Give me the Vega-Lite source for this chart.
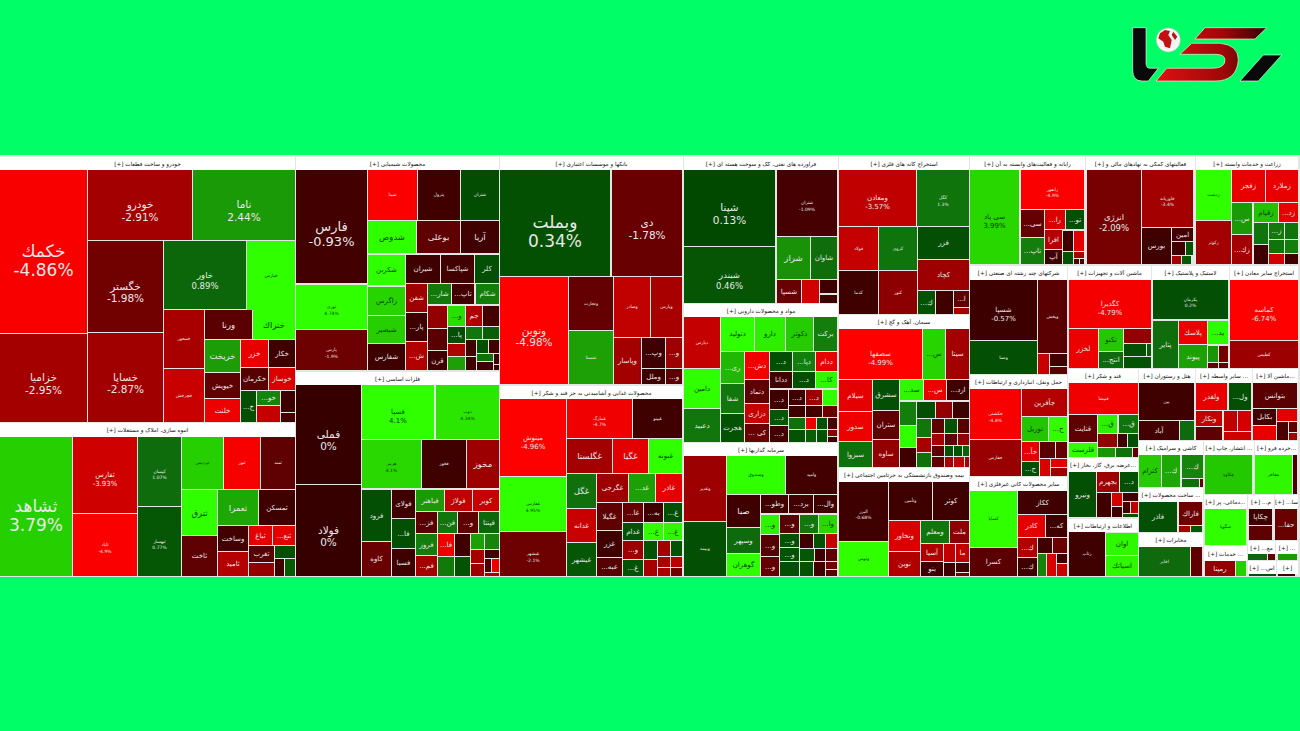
{"$schema":"https://vega.github.io/schema/vega-lite/v6.json","width":1300,"height":731,"padding":0,"autosize":{"type":"none"},"background":"#00ff66","config":{"view":{"stroke":null},"style":{"cell":{"stroke":null}}},
"datasets":{
"frame":[{"x":0,"x2":1300,"y":155,"y2":577}],
"logo":[{"x":1207,"y":53}],
"groups":[
{"x":0,"x2":295,"y":157,"y2":170,"n":"[+] خودرو و ساخت قطعات"},
{"x":0,"x2":295,"y":423,"y2":437,"n":"[+] انبوه سازی، املاک و مستغلات"},
{"x":296,"x2":499,"y":157,"y2":170,"n":"[+] محصولات شیمیایی"},
{"x":296,"x2":499,"y":372,"y2":385,"n":"[+] فلزات اساسی"},
{"x":500,"x2":683,"y":157,"y2":170,"n":"[+] بانکها و موسسات اعتباری"},
{"x":500,"x2":683,"y":386,"y2":399,"n":"[+] محصولات غذایی و آشامیدنی به جز قند و شکر"},
{"x":684,"x2":838,"y":157,"y2":170,"n":"[+] فراورده های نفتی، کک و سوخت هسته ای"},
{"x":684,"x2":838,"y":304,"y2":317,"n":"[+] مواد و محصولات دارویی"},
{"x":684,"x2":838,"y":443,"y2":456,"n":"[+] سرمایه گذاریها"},
{"x":839,"x2":969,"y":157,"y2":170,"n":"[+] استخراج کانه های فلزی"},
{"x":839,"x2":969,"y":315,"y2":329,"n":"[+] سیمان، آهک و گچ"},
{"x":839,"x2":969,"y":468,"y2":482,"n":"[+] بیمه وصندوق بازنشستگی به جزتامین اجتماعی"},
{"x":970,"x2":1085,"y":157,"y2":170,"n":"[+] رایانه و فعالیت‌های وابسته به آن"},
{"x":1086,"x2":1195,"y":157,"y2":170,"n":"[+] فعالیتهای کمکی به نهادهای مالی و"},
{"x":1196,"x2":1298,"y":157,"y2":170,"n":"[+] زراعت و خدمات وابسته"},
{"x":970,"x2":1067,"y":266,"y2":280,"n":"[+] شرکتهای چند رشته ای صنعتی"},
{"x":1068,"x2":1151,"y":266,"y2":280,"n":"[+] ماشین آلات و تجهیزات"},
{"x":1152,"x2":1229,"y":266,"y2":280,"n":"[+] لاستیک و پلاستیک"},
{"x":1230,"x2":1298,"y":266,"y2":280,"n":"[+] استخراج سایر معادن"},
{"x":970,"x2":1067,"y":375,"y2":389,"n":"[+] حمل ونقل، انبارداری و ارتباطات"},
{"x":1068,"x2":1138,"y":369,"y2":383,"n":"[+] قند و شکر"},
{"x":1139,"x2":1195,"y":369,"y2":383,"n":"[+] هتل و رستوران"},
{"x":1196,"x2":1252,"y":369,"y2":383,"n":"[+] سایر واسطه ..."},
{"x":1253,"x2":1298,"y":369,"y2":383,"n":"[+] ماشین آلا..."},
{"x":1068,"x2":1138,"y":458,"y2":472,"n":"[+] عرضه برق، گاز، بخار..."},
{"x":1068,"x2":1138,"y":519,"y2":532,"n":"[+] اطلاعات و ارتباطات"},
{"x":970,"x2":1067,"y":477,"y2":491,"n":"[+] سایر محصولات کانی غیرفلزی"},
{"x":1139,"x2":1203,"y":441,"y2":455,"n":"[+] کاشی و سرامیک"},
{"x":1204,"x2":1254,"y":441,"y2":455,"n":"[+] انتشار، چاپ ..."},
{"x":1255,"x2":1298,"y":441,"y2":455,"n":"[+] خرده فرو..."},
{"x":1139,"x2":1203,"y":488,"y2":502,"n":"[+] ساخت محصولات ..."},
{"x":1139,"x2":1203,"y":533,"y2":547,"n":"[+] مخابرات"},
{"x":1204,"x2":1247,"y":495,"y2":509,"n":"[+] دماغی، پر..."},
{"x":1204,"x2":1247,"y":546,"y2":561,"n":"[+] خدمات ..."},
{"x":1248,"x2":1274,"y":495,"y2":509,"n":"[+] ...م"},
{"x":1275,"x2":1298,"y":495,"y2":509,"n":"[+] ...سا"},
{"x":1248,"x2":1275,"y":541,"y2":554,"n":"[+] ...مع"},
{"x":1276,"x2":1298,"y":541,"y2":554,"n":"[+] ..."},
{"x":1248,"x2":1276,"y":561,"y2":574,"n":"[+] ...اس"},
{"x":1277,"x2":1298,"y":561,"y2":574,"n":"[+]"}
],
"cells":[
{"x":0,"x2":87,"y":170,"y2":333,"n":"خکمك|-4.86%","c":-4.86,"t":1},
{"x":0,"x2":87,"y":334,"y2":422,"n":"خزامیا|-2.95%","c":-2.95,"t":3},
{"x":88,"x2":192,"y":170,"y2":240,"n":"خودرو|-2.91%","c":-2.91,"t":3},
{"x":193,"x2":295,"y":170,"y2":240,"n":"ناما|2.44%","c":2.44,"t":3},
{"x":88,"x2":163,"y":241,"y2":332,"n":"خگستر|-1.98%","c":-1.98,"t":3},
{"x":88,"x2":163,"y":333,"y2":422,"n":"خساپا|-2.87%","c":-2.87,"t":3},
{"x":164,"x2":246,"y":241,"y2":309,"n":"خاور|0.89%","c":0.89,"t":4},
{"x":247,"x2":295,"y":241,"y2":310,"n":"خپارس","c":5,"t":6},
{"x":164,"x2":204,"y":310,"y2":368,"n":"خمحور","c":-3,"t":6},
{"x":164,"x2":204,"y":369,"y2":422,"n":"خچرخش","c":-3.8,"t":6},
{"x":205,"x2":252,"y":310,"y2":339,"n":"ورنا","c":-1.5,"t":4},
{"x":253,"x2":295,"y":310,"y2":339,"n":"ختراك","c":5,"t":4},
{"x":205,"x2":240,"y":340,"y2":372,"n":"خریخت","c":2.5,"t":4},
{"x":241,"x2":268,"y":340,"y2":367,"n":"خزر","c":-4.5,"t":5},
{"x":269,"x2":295,"y":340,"y2":367,"n":"خکار","c":-0.7,"t":5},
{"x":205,"x2":240,"y":373,"y2":398,"n":"خیویش","c":-1.6,"t":5},
{"x":241,"x2":268,"y":368,"y2":390,"n":"خکرمان","c":-1.4,"t":5},
{"x":269,"x2":295,"y":368,"y2":390,"n":"خوساز","c":-4.2,"t":5},
{"x":205,"x2":240,"y":399,"y2":422,"n":"خلنت","c":-4.6,"t":5},
{"x":241,"x2":256,"y":391,"y2":422,"n":"...خ","c":0.3,"t":5},
{"x":257,"x2":280,"y":391,"y2":405,"n":"...خو","c":1.8,"t":5},
{"x":281,"x2":295,"y":391,"y2":412,"c":-0.6},
{"x":257,"x2":280,"y":406,"y2":422,"c":-3.7},
{"x":281,"x2":295,"y":413,"y2":422,"c":-0.9},
{"x":0,"x2":72,"y":437,"y2":576,"n":"ثشاهد|3.79%","c":3.79,"t":1},
{"x":73,"x2":137,"y":437,"y2":513,"n":"ثفارس|-3.93%","c":-3.93,"t":5},
{"x":73,"x2":137,"y":514,"y2":576,"n":"ثاباد|-4.9%","c":-4.9,"t":6},
{"x":138,"x2":181,"y":437,"y2":506,"n":"کیسان|1.07%","c":1.07,"t":6},
{"x":138,"x2":181,"y":507,"y2":576,"n":"ثبهساز|0.77%","c":0.5,"t":6},
{"x":182,"x2":223,"y":437,"y2":489,"n":"ثپردیس","c":3.8,"t":6},
{"x":224,"x2":260,"y":437,"y2":489,"n":"ثنور","c":-4.8,"t":6},
{"x":261,"x2":295,"y":437,"y2":489,"n":"ثمند","c":-1.6,"t":6},
{"x":182,"x2":217,"y":490,"y2":535,"n":"ثترق","c":5,"t":4},
{"x":218,"x2":258,"y":490,"y2":525,"n":"ثعمرا","c":2.8,"t":4},
{"x":259,"x2":295,"y":490,"y2":525,"n":"ثمسکن","c":-0.7,"t":5},
{"x":182,"x2":217,"y":536,"y2":576,"n":"ثاخت","c":-1.6,"t":5},
{"x":218,"x2":248,"y":526,"y2":551,"n":"وساخت","c":-0.9,"t":5},
{"x":249,"x2":272,"y":526,"y2":545,"n":"ثباغ","c":-4.4,"t":5},
{"x":273,"x2":295,"y":526,"y2":545,"n":"...ثنع","c":-4.4,"t":5},
{"x":218,"x2":248,"y":552,"y2":576,"n":"ثامید","c":-3.3,"t":5},
{"x":249,"x2":274,"y":546,"y2":562,"n":"ثغرب","c":-1.4,"t":5},
{"x":249,"x2":274,"y":563,"y2":576,"c":-2.6},
{"x":275,"x2":295,"y":546,"y2":558,"c":0.3},
{"x":275,"x2":284,"y":559,"y2":576,"c":-0.7},
{"x":285,"x2":295,"y":559,"y2":576,"c":0.6},
{"x":296,"x2":367,"y":170,"y2":283,"n":"فارس|-0.93%","c":-0.93,"t":2},
{"x":296,"x2":367,"y":285,"y2":329,"n":"نوری|4.74%","c":5,"t":6},
{"x":296,"x2":367,"y":330,"y2":370,"n":"پارس|-1.9%","c":-1.9,"t":6},
{"x":368,"x2":417,"y":170,"y2":220,"n":"شپنا","c":-4.9,"t":6},
{"x":418,"x2":460,"y":170,"y2":220,"n":"پترول","c":-0.8,"t":6},
{"x":461,"x2":499,"y":170,"y2":220,"n":"شتران","c":0.25,"t":6},
{"x":368,"x2":416,"y":221,"y2":253,"n":"شدوص","c":5,"t":4},
{"x":417,"x2":460,"y":221,"y2":253,"n":"بوعلی","c":-1.6,"t":4},
{"x":461,"x2":499,"y":221,"y2":253,"n":"آریا","c":-0.8,"t":4},
{"x":368,"x2":405,"y":255,"y2":285,"n":"شکربن","c":5,"t":5},
{"x":368,"x2":405,"y":287,"y2":315,"n":"زاگرس","c":3.9,"t":5},
{"x":368,"x2":405,"y":316,"y2":343,"n":"شیصیر","c":3.8,"t":5},
{"x":368,"x2":405,"y":344,"y2":370,"n":"شفارس","c":-0.7,"t":5},
{"x":406,"x2":440,"y":255,"y2":283,"n":"شیران","c":-0.7,"t":5},
{"x":441,"x2":474,"y":255,"y2":283,"n":"شپاکسا","c":-0.9,"t":5},
{"x":475,"x2":499,"y":255,"y2":283,"n":"کلر","c":0.3,"t":5},
{"x":406,"x2":427,"y":284,"y2":312,"n":"شفن","c":-2.8,"t":5},
{"x":428,"x2":451,"y":284,"y2":304,"n":"...شار","c":1.5,"t":5},
{"x":452,"x2":474,"y":284,"y2":304,"n":"...تاپ","c":-0.9,"t":5},
{"x":476,"x2":499,"y":284,"y2":304,"n":"شکام","c":1.6,"t":5},
{"x":406,"x2":427,"y":313,"y2":341,"n":"...پار","c":-0.7,"t":5},
{"x":406,"x2":427,"y":342,"y2":370,"n":"...ش","c":-3.2,"t":5},
{"x":428,"x2":447,"y":306,"y2":328,"c":-2.6},
{"x":428,"x2":447,"y":329,"y2":350,"c":-1.5},
{"x":428,"x2":447,"y":351,"y2":370,"n":"قرن","c":-0.8,"t":5},
{"x":448,"x2":465,"y":306,"y2":326,"n":"...و","c":4.2,"t":5},
{"x":448,"x2":465,"y":327,"y2":343,"n":"...پا","c":0.3,"t":5},
{"x":448,"x2":465,"y":344,"y2":356,"c":-3.2},
{"x":448,"x2":465,"y":357,"y2":370,"c":2.6},
{"x":466,"x2":482,"y":306,"y2":326,"n":"جم","c":-3.2,"t":5},
{"x":483,"x2":499,"y":306,"y2":326,"c":-1},
{"x":466,"x2":482,"y":327,"y2":339,"c":1.4},
{"x":483,"x2":499,"y":327,"y2":339,"c":0.7},
{"x":466,"x2":476,"y":340,"y2":356,"c":-0.9},
{"x":477,"x2":488,"y":340,"y2":353,"c":0.3},
{"x":489,"x2":499,"y":340,"y2":353,"c":-0.9},
{"x":477,"x2":493,"y":354,"y2":361,"c":1.2},
{"x":494,"x2":499,"y":354,"y2":364,"c":-0.8},
{"x":466,"x2":476,"y":357,"y2":370,"c":-0.8},
{"x":477,"x2":493,"y":362,"y2":370,"c":-0.8},
{"x":494,"x2":499,"y":365,"y2":370,"c":-0.8},
{"x":296,"x2":361,"y":385,"y2":484,"n":"فملی|0%","c":0,"t":3},
{"x":296,"x2":361,"y":485,"y2":576,"n":"فولاد|0%","c":0,"t":3},
{"x":362,"x2":434,"y":385,"y2":439,"n":"فسپا|4.1%","c":5,"t":5},
{"x":436,"x2":499,"y":385,"y2":439,"n":"ذوب|4.34%","c":4.4,"t":6},
{"x":362,"x2":421,"y":440,"y2":488,"n":"هرمز|4.1%","c":4,"t":6},
{"x":422,"x2":466,"y":440,"y2":488,"n":"فخوز","c":-0.7,"t":6},
{"x":467,"x2":499,"y":440,"y2":488,"n":"مخوز","c":-2.8,"t":4},
{"x":362,"x2":391,"y":490,"y2":541,"n":"فرود","c":0.3,"t":5},
{"x":362,"x2":391,"y":542,"y2":576,"n":"کاوه","c":-1.8,"t":5},
{"x":392,"x2":415,"y":490,"y2":518,"n":"فولای","c":-0.8,"t":5},
{"x":392,"x2":415,"y":519,"y2":548,"n":"...فا","c":0.3,"t":5},
{"x":392,"x2":415,"y":549,"y2":576,"n":"فسبا","c":-0.7,"t":5},
{"x":416,"x2":444,"y":490,"y2":511,"n":"فباهنر","c":2.4,"t":5},
{"x":445,"x2":472,"y":490,"y2":511,"n":"فولاژ","c":-3.6,"t":5},
{"x":473,"x2":499,"y":490,"y2":511,"n":"کویر","c":-3.8,"t":5},
{"x":416,"x2":437,"y":512,"y2":533,"n":"...فز","c":-1.5,"t":5},
{"x":438,"x2":457,"y":512,"y2":533,"n":"...فن","c":1.4,"t":5},
{"x":458,"x2":478,"y":512,"y2":533,"n":"...و","c":-1.6,"t":5},
{"x":479,"x2":499,"y":512,"y2":533,"n":"فپنتا","c":0.9,"t":5},
{"x":416,"x2":437,"y":534,"y2":555,"n":"فروز","c":1.6,"t":5},
{"x":416,"x2":437,"y":556,"y2":576,"n":"...فم","c":-2.9,"t":5},
{"x":438,"x2":454,"y":534,"y2":556,"n":"...فا","c":-4.6,"t":5},
{"x":438,"x2":454,"y":557,"y2":576,"c":1.5},
{"x":455,"x2":470,"y":534,"y2":556,"c":-0.7},
{"x":455,"x2":470,"y":557,"y2":576,"c":0.4},
{"x":471,"x2":484,"y":534,"y2":549,"c":2.6},
{"x":485,"x2":499,"y":534,"y2":549,"c":1.8},
{"x":471,"x2":484,"y":550,"y2":563,"c":-3},
{"x":471,"x2":484,"y":564,"y2":576,"c":-2.8},
{"x":485,"x2":499,"y":550,"y2":558,"c":-0.8},
{"x":485,"x2":491,"y":559,"y2":572,"c":-1.2},
{"x":492,"x2":499,"y":559,"y2":572,"c":-4.6},
{"x":485,"x2":499,"y":573,"y2":576,"c":-3},
{"x":500,"x2":610,"y":170,"y2":276,"n":"وبملت|0.34%","c":0.34,"t":1},
{"x":612,"x2":682,"y":170,"y2":276,"n":"دی|-1.78%","c":-1.78,"t":3},
{"x":500,"x2":568,"y":277,"y2":384,"n":"ونوین|-4.98%","c":-4.98,"t":3},
{"x":569,"x2":613,"y":277,"y2":330,"n":"وتجارت","c":-1.7,"t":6},
{"x":569,"x2":613,"y":331,"y2":384,"n":"شستا","c":2.6,"t":6},
{"x":614,"x2":650,"y":277,"y2":337,"n":"وصادر","c":-3.6,"t":6},
{"x":651,"x2":682,"y":277,"y2":337,"n":"وپارس","c":-3,"t":6},
{"x":614,"x2":641,"y":338,"y2":384,"n":"وپاسار","c":-2.9,"t":5},
{"x":642,"x2":665,"y":338,"y2":368,"n":"...وپ","c":-0.6,"t":5},
{"x":666,"x2":682,"y":338,"y2":368,"n":"...و","c":-2.8,"t":5},
{"x":642,"x2":665,"y":369,"y2":384,"n":"وملل","c":-0.8,"t":5},
{"x":666,"x2":682,"y":369,"y2":384,"n":"...و","c":-1.5,"t":5},
{"x":500,"x2":566,"y":399,"y2":476,"n":"مینوش|-4.96%","c":-4.96,"t":5},
{"x":500,"x2":566,"y":477,"y2":531,"n":"غفارس|4.95%","c":5,"t":6},
{"x":500,"x2":566,"y":532,"y2":576,"n":"غبشهر|-2.1%","c":-1.9,"t":6},
{"x":567,"x2":632,"y":399,"y2":438,"n":"غمارگ|-4.7%","c":-4.7,"t":6},
{"x":633,"x2":682,"y":399,"y2":438,"n":"غپینو","c":-0.7,"t":6},
{"x":567,"x2":612,"y":439,"y2":473,"n":"غگلستا","c":-2.9,"t":4},
{"x":613,"x2":648,"y":439,"y2":473,"n":"غگیا","c":-4.4,"t":4},
{"x":649,"x2":682,"y":439,"y2":473,"n":"غبونه","c":5,"t":5},
{"x":567,"x2":596,"y":474,"y2":508,"n":"غگل","c":1.2,"t":4},
{"x":597,"x2":628,"y":474,"y2":502,"n":"غگرجی","c":-2.8,"t":5},
{"x":629,"x2":655,"y":474,"y2":502,"n":"...غد","c":2.6,"t":5},
{"x":656,"x2":682,"y":474,"y2":502,"n":"غاذر","c":-4.4,"t":5},
{"x":567,"x2":596,"y":509,"y2":542,"n":"غدانه","c":-3.8,"t":5},
{"x":567,"x2":596,"y":543,"y2":576,"n":"غیشهر","c":0.5,"t":5},
{"x":597,"x2":622,"y":503,"y2":530,"n":"غگیلا","c":-1.6,"t":5},
{"x":597,"x2":622,"y":531,"y2":557,"n":"غزر","c":-0.7,"t":5},
{"x":597,"x2":622,"y":558,"y2":576,"n":"...عبه","c":-1.4,"t":5},
{"x":623,"x2":643,"y":503,"y2":522,"n":"...غا","c":-1.7,"t":5},
{"x":644,"x2":663,"y":503,"y2":522,"n":"...به","c":-0.8,"t":5},
{"x":664,"x2":682,"y":503,"y2":522,"n":"...غ","c":0.3,"t":5},
{"x":623,"x2":643,"y":523,"y2":540,"n":"غدام","c":0.4,"t":5},
{"x":644,"x2":663,"y":523,"y2":540,"n":"...غ","c":5,"t":5},
{"x":664,"x2":682,"y":523,"y2":540,"n":"...غ","c":4.8,"t":5},
{"x":623,"x2":643,"y":541,"y2":559,"n":"...و","c":-2.8,"t":5},
{"x":623,"x2":643,"y":560,"y2":576,"n":"...غ","c":0.4,"t":5},
{"x":644,"x2":657,"y":541,"y2":559,"c":0.4},
{"x":644,"x2":657,"y":560,"y2":576,"c":-3},
{"x":658,"x2":670,"y":541,"y2":556,"c":-2.9},
{"x":671,"x2":682,"y":541,"y2":556,"c":0.4},
{"x":658,"x2":670,"y":557,"y2":567,"c":-3},
{"x":671,"x2":682,"y":557,"y2":567,"c":-3.4},
{"x":658,"x2":670,"y":568,"y2":576,"c":-3},
{"x":671,"x2":682,"y":568,"y2":576,"c":-2},
{"x":684,"x2":775,"y":170,"y2":246,"n":"شپنا|0.13%","c":0.13,"t":3},
{"x":684,"x2":775,"y":247,"y2":303,"n":"شبندر|0.46%","c":0.46,"t":4},
{"x":777,"x2":837,"y":170,"y2":236,"n":"شتران|-1.09%","c":-1.09,"t":6},
{"x":777,"x2":810,"y":237,"y2":279,"n":"شراز","c":2.2,"t":4},
{"x":811,"x2":837,"y":237,"y2":279,"n":"شاوان","c":1.1,"t":5},
{"x":777,"x2":801,"y":280,"y2":303,"n":"شسپا","c":-1.8,"t":5},
{"x":802,"x2":819,"y":280,"y2":303,"c":-4},
{"x":820,"x2":837,"y":280,"y2":293,"c":-0.7},
{"x":820,"x2":837,"y":295,"y2":303,"c":-0.8},
{"x":684,"x2":720,"y":317,"y2":368,"n":"دپارس","c":-3.7,"t":6},
{"x":684,"x2":720,"y":369,"y2":408,"n":"دامین","c":5,"t":5},
{"x":684,"x2":720,"y":409,"y2":442,"n":"دعبید","c":1.4,"t":5},
{"x":721,"x2":754,"y":317,"y2":351,"n":"دتولید","c":5,"t":5},
{"x":755,"x2":785,"y":317,"y2":351,"n":"دارو","c":4.6,"t":5},
{"x":786,"x2":813,"y":317,"y2":351,"n":"دکوثر","c":3.7,"t":5},
{"x":814,"x2":837,"y":317,"y2":351,"n":"برکت","c":1.6,"t":5},
{"x":721,"x2":744,"y":352,"y2":383,"n":"...ری","c":3.2,"t":5},
{"x":721,"x2":744,"y":384,"y2":413,"n":"شفا","c":1.4,"t":5},
{"x":721,"x2":744,"y":414,"y2":442,"n":"هجرت","c":0.4,"t":5},
{"x":745,"x2":769,"y":352,"y2":379,"n":"...دش","c":-4.7,"t":5},
{"x":745,"x2":769,"y":380,"y2":403,"n":"دتماد","c":-1.6,"t":5},
{"x":745,"x2":769,"y":404,"y2":423,"n":"دزاری","c":-3.7,"t":5},
{"x":745,"x2":769,"y":424,"y2":442,"n":"... کی","c":-1.8,"t":5},
{"x":770,"x2":792,"y":352,"y2":371,"n":"...د","c":0.3,"t":5},
{"x":793,"x2":815,"y":352,"y2":371,"n":"...دپا","c":1.6,"t":5},
{"x":816,"x2":837,"y":352,"y2":371,"n":"ددام","c":-4.5,"t":5},
{"x":770,"x2":792,"y":372,"y2":388,"n":"ددانا","c":-0.9,"t":5},
{"x":793,"x2":815,"y":372,"y2":388,"n":"...د","c":0.3,"t":5},
{"x":816,"x2":837,"y":372,"y2":388,"n":"...کا","c":4.8,"t":5},
{"x":770,"x2":788,"y":390,"y2":409,"n":"...د","c":-0.8,"t":5},
{"x":789,"x2":805,"y":390,"y2":405,"n":"...د","c":-0.7,"t":5},
{"x":806,"x2":822,"y":390,"y2":405,"n":"...د","c":-2.8,"t":5},
{"x":823,"x2":837,"y":390,"y2":405,"c":5},
{"x":789,"x2":805,"y":406,"y2":417,"c":-0.7},
{"x":806,"x2":822,"y":406,"y2":417,"c":-0.8},
{"x":823,"x2":837,"y":406,"y2":417,"c":-1.9},
{"x":770,"x2":788,"y":410,"y2":425,"n":"...د","c":0.5,"t":5},
{"x":770,"x2":788,"y":426,"y2":442,"n":"...د","c":-0.9,"t":5},
{"x":789,"x2":805,"y":418,"y2":429,"c":1.2},
{"x":806,"x2":816,"y":418,"y2":429,"c":-4.6},
{"x":817,"x2":827,"y":418,"y2":429,"c":0.4},
{"x":828,"x2":837,"y":418,"y2":429,"c":-1.2},
{"x":789,"x2":805,"y":430,"y2":442,"c":0.4},
{"x":806,"x2":816,"y":430,"y2":442,"c":0.7},
{"x":817,"x2":827,"y":430,"y2":442,"c":0.4},
{"x":828,"x2":837,"y":430,"y2":436,"c":-2.5},
{"x":828,"x2":837,"y":437,"y2":442,"c":-0.8},
{"x":684,"x2":726,"y":456,"y2":521,"n":"وغدیر","c":-2.8,"t":6},
{"x":684,"x2":726,"y":522,"y2":576,"n":"وبیمه","c":0.3,"t":6},
{"x":727,"x2":785,"y":456,"y2":494,"n":"وصندوق","c":5,"t":6},
{"x":786,"x2":837,"y":456,"y2":494,"n":"وامید","c":-0.9,"t":6},
{"x":727,"x2":760,"y":495,"y2":527,"n":"صبا","c":-0.7,"t":4},
{"x":727,"x2":760,"y":528,"y2":553,"n":"وسپهر","c":1,"t":5},
{"x":727,"x2":760,"y":554,"y2":576,"n":"گوهران","c":5,"t":5},
{"x":761,"x2":788,"y":495,"y2":513,"n":"...وطو","c":-1,"t":5},
{"x":789,"x2":813,"y":495,"y2":513,"n":"...برد","c":-0.9,"t":5},
{"x":814,"x2":837,"y":495,"y2":513,"n":"...وال","c":-0.8,"t":5},
{"x":761,"x2":779,"y":515,"y2":534,"n":"...و","c":4.7,"t":5},
{"x":780,"x2":799,"y":515,"y2":533,"n":"...و","c":-1.5,"t":5},
{"x":800,"x2":818,"y":515,"y2":533,"n":"...و","c":1.4,"t":5},
{"x":819,"x2":837,"y":515,"y2":533,"n":"...وا","c":4,"t":5},
{"x":761,"x2":779,"y":535,"y2":556,"n":"...و","c":-1.4,"t":5},
{"x":761,"x2":779,"y":557,"y2":576,"n":"...و","c":-1.7,"t":5},
{"x":780,"x2":799,"y":534,"y2":547,"n":"...و","c":0.4,"t":5},
{"x":780,"x2":799,"y":548,"y2":561,"n":"...و","c":0.4,"t":5},
{"x":780,"x2":799,"y":562,"y2":576,"c":0.3},
{"x":800,"x2":813,"y":534,"y2":548,"c":-0.7},
{"x":814,"x2":825,"y":534,"y2":548,"c":0.4},
{"x":826,"x2":837,"y":534,"y2":548,"c":-3.8},
{"x":800,"x2":814,"y":549,"y2":561,"c":0.5},
{"x":815,"x2":825,"y":549,"y2":561,"c":-0.8},
{"x":826,"x2":837,"y":549,"y2":561,"c":-1.6},
{"x":800,"x2":813,"y":562,"y2":576,"c":0.4},
{"x":814,"x2":825,"y":562,"y2":576,"c":-0.9},
{"x":826,"x2":837,"y":562,"y2":569,"c":-2},
{"x":826,"x2":837,"y":570,"y2":576,"c":-1.4},
{"x":839,"x2":916,"y":170,"y2":226,"n":"ومعادن|-3.57%","c":-3.57,"t":5},
{"x":917,"x2":969,"y":170,"y2":226,"n":"کگل|1.3%","c":1.3,"t":6},
{"x":839,"x2":878,"y":227,"y2":270,"n":"فولاد","c":-3.7,"t":6},
{"x":879,"x2":917,"y":227,"y2":270,"n":"کروی","c":1.3,"t":6},
{"x":918,"x2":969,"y":227,"y2":259,"n":"فزر","c":0.3,"t":5},
{"x":918,"x2":969,"y":260,"y2":290,"n":"کچاد","c":-2.8,"t":5},
{"x":839,"x2":878,"y":271,"y2":314,"n":"کدما","c":-0.7,"t":6},
{"x":879,"x2":917,"y":271,"y2":314,"n":"کنور","c":-2.5,"t":6},
{"x":918,"x2":935,"y":291,"y2":314,"n":"...ك","c":0.4,"t":5},
{"x":936,"x2":953,"y":291,"y2":314,"c":-0.7},
{"x":954,"x2":969,"y":291,"y2":307,"n":"...ا","c":-1.6,"t":5},
{"x":954,"x2":969,"y":308,"y2":314,"c":-3},
{"x":839,"x2":922,"y":329,"y2":379,"n":"سصفها|-4.99%","c":-4.99,"t":5},
{"x":923,"x2":945,"y":329,"y2":379,"n":"...س","c":3.9,"t":5},
{"x":946,"x2":969,"y":329,"y2":379,"n":"سیتا","c":-2.9,"t":5},
{"x":839,"x2":872,"y":380,"y2":411,"n":"سیلام","c":-4.4,"t":5},
{"x":839,"x2":872,"y":412,"y2":441,"n":"سدور","c":-4.6,"t":5},
{"x":839,"x2":872,"y":442,"y2":467,"n":"سبزوا","c":1.2,"t":5},
{"x":873,"x2":899,"y":380,"y2":410,"n":"سشرق","c":0.3,"t":5},
{"x":873,"x2":899,"y":411,"y2":439,"n":"ستران","c":-1.6,"t":5},
{"x":873,"x2":899,"y":440,"y2":467,"n":"ساوه","c":-2.6,"t":5},
{"x":900,"x2":923,"y":380,"y2":400,"n":"...سد","c":4.8,"t":5},
{"x":924,"x2":946,"y":380,"y2":400,"n":"...س","c":-4.6,"t":5},
{"x":947,"x2":969,"y":380,"y2":400,"n":"...ارد","c":-0.7,"t":5},
{"x":900,"x2":916,"y":402,"y2":425,"c":1.6},
{"x":900,"x2":916,"y":426,"y2":447,"c":5},
{"x":900,"x2":916,"y":448,"y2":467,"c":-0.7},
{"x":917,"x2":935,"y":402,"y2":418,"c":0.3},
{"x":936,"x2":952,"y":402,"y2":418,"c":-2.6},
{"x":953,"x2":969,"y":402,"y2":418,"c":-0.7},
{"x":917,"x2":931,"y":419,"y2":437,"c":1.4},
{"x":917,"x2":931,"y":438,"y2":452,"c":-3},
{"x":917,"x2":931,"y":453,"y2":467,"c":1.2},
{"x":932,"x2":944,"y":419,"y2":433,"c":-1.6},
{"x":945,"x2":957,"y":419,"y2":433,"c":0.4},
{"x":958,"x2":969,"y":419,"y2":433,"c":-1.4},
{"x":932,"x2":944,"y":434,"y2":445,"c":-3},
{"x":945,"x2":957,"y":434,"y2":445,"c":-1.6},
{"x":958,"x2":969,"y":434,"y2":445,"c":-2.6},
{"x":932,"x2":944,"y":446,"y2":456,"c":-1.6},
{"x":945,"x2":953,"y":446,"y2":456,"c":0.4},
{"x":954,"x2":962,"y":446,"y2":456,"c":0.4},
{"x":963,"x2":969,"y":446,"y2":456,"c":0.8},
{"x":932,"x2":944,"y":457,"y2":467,"c":-1.6},
{"x":945,"x2":953,"y":457,"y2":467,"c":-3},
{"x":954,"x2":964,"y":457,"y2":467,"c":-3.6},
{"x":965,"x2":969,"y":457,"y2":467,"c":-3},
{"x":839,"x2":888,"y":482,"y2":541,"n":"البرز|-0.68%","c":-0.68,"t":6},
{"x":839,"x2":888,"y":542,"y2":576,"n":"وتوس","c":5,"t":6},
{"x":889,"x2":932,"y":482,"y2":520,"n":"وتأمین","c":-0.7,"t":6},
{"x":933,"x2":969,"y":482,"y2":520,"n":"کوثر","c":-0.7,"t":5},
{"x":889,"x2":920,"y":521,"y2":551,"n":"ونخاور","c":-4.2,"t":5},
{"x":889,"x2":920,"y":552,"y2":576,"n":"نوین","c":-3.2,"t":5},
{"x":921,"x2":949,"y":521,"y2":543,"n":"ومعلم","c":1.4,"t":5},
{"x":950,"x2":969,"y":521,"y2":543,"n":"ملت","c":-2.5,"t":5},
{"x":921,"x2":943,"y":544,"y2":561,"n":"آسیا","c":-3.2,"t":5},
{"x":921,"x2":943,"y":562,"y2":576,"n":"بنو","c":-0.7,"t":5},
{"x":944,"x2":955,"y":544,"y2":562,"c":-3.6},
{"x":956,"x2":969,"y":544,"y2":562,"n":"ما","c":-3.6,"t":5},
{"x":944,"x2":955,"y":563,"y2":576,"c":-0.8},
{"x":956,"x2":969,"y":563,"y2":572,"c":-0.8},
{"x":956,"x2":969,"y":573,"y2":576,"c":-2},
{"x":970,"x2":1019,"y":170,"y2":264,"n":"سی پاد|3.99%","c":3.99,"t":5},
{"x":1021,"x2":1084,"y":170,"y2":209,"n":"رانفور|-4.9%","c":-4.9,"t":6},
{"x":1021,"x2":1044,"y":210,"y2":237,"n":"...سی","c":-1.7,"t":5},
{"x":1045,"x2":1065,"y":210,"y2":229,"n":"...را","c":-4.2,"t":5},
{"x":1066,"x2":1084,"y":210,"y2":229,"n":"...تو","c":0.3,"t":5},
{"x":1021,"x2":1044,"y":238,"y2":264,"n":"...تاپ","c":1.6,"t":5},
{"x":1045,"x2":1062,"y":230,"y2":249,"n":"افرا","c":-3.3,"t":5},
{"x":1045,"x2":1062,"y":250,"y2":264,"n":"آپ","c":-0.7,"t":5},
{"x":1063,"x2":1073,"y":231,"y2":251,"c":-0.7},
{"x":1074,"x2":1084,"y":231,"y2":251,"c":-4.4},
{"x":1063,"x2":1073,"y":252,"y2":264,"c":0.4},
{"x":1074,"x2":1084,"y":252,"y2":258,"c":-3},
{"x":1074,"x2":1079,"y":259,"y2":264,"c":-1.5},
{"x":1080,"x2":1084,"y":259,"y2":264,"c":-0.9},
{"x":1087,"x2":1141,"y":170,"y2":264,"n":"انرژی|-2.09%","c":-2.09,"t":4},
{"x":1142,"x2":1193,"y":170,"y2":227,"n":"خاوریانه|-3.4%","c":-2.9,"t":6},
{"x":1142,"x2":1171,"y":228,"y2":264,"n":"بورس","c":-0.7,"t":5},
{"x":1172,"x2":1193,"y":228,"y2":241,"n":"امین","c":-1,"t":5},
{"x":1172,"x2":1185,"y":242,"y2":255,"c":-0.7},
{"x":1186,"x2":1193,"y":242,"y2":255,"c":0.4},
{"x":1172,"x2":1181,"y":256,"y2":264,"c":-3},
{"x":1182,"x2":1191,"y":256,"y2":264,"c":0.6},
{"x":1196,"x2":1231,"y":170,"y2":220,"n":"زدشت","c":5,"t":6},
{"x":1196,"x2":1231,"y":221,"y2":264,"n":"زکوثر","c":-2.9,"t":6},
{"x":1232,"x2":1265,"y":170,"y2":202,"n":"زفجر","c":-4.5,"t":5},
{"x":1266,"x2":1298,"y":170,"y2":202,"n":"زملارد","c":-4.5,"t":5},
{"x":1232,"x2":1252,"y":203,"y2":234,"n":"...س","c":2.4,"t":5},
{"x":1232,"x2":1252,"y":235,"y2":264,"n":"...زك","c":-2.9,"t":5},
{"x":1254,"x2":1278,"y":203,"y2":222,"n":"زقیام","c":3.4,"t":5},
{"x":1279,"x2":1298,"y":203,"y2":222,"n":"...زد","c":-4.5,"t":5},
{"x":1254,"x2":1268,"y":223,"y2":244,"c":1.3},
{"x":1269,"x2":1284,"y":223,"y2":239,"n":"...ز","c":1.5,"t":5},
{"x":1285,"x2":1298,"y":223,"y2":239,"c":1.3},
{"x":1254,"x2":1268,"y":245,"y2":264,"c":-0.6},
{"x":1269,"x2":1284,"y":240,"y2":253,"c":1.3},
{"x":1285,"x2":1298,"y":240,"y2":253,"c":1.6},
{"x":1269,"x2":1284,"y":254,"y2":264,"c":-4},
{"x":1285,"x2":1298,"y":254,"y2":264,"c":-0.8},
{"x":970,"x2":1037,"y":280,"y2":340,"n":"شسپا|-0.57%","c":-0.57,"t":5},
{"x":970,"x2":1037,"y":341,"y2":374,"n":"وصنا","c":0.3,"t":6},
{"x":1038,"x2":1067,"y":280,"y2":353,"n":"وپخش","c":-1.5,"t":6},
{"x":1038,"x2":1049,"y":354,"y2":374,"c":-3.8},
{"x":1050,"x2":1067,"y":354,"y2":366,"c":-0.8},
{"x":1050,"x2":1067,"y":367,"y2":374,"c":-1.6},
{"x":1069,"x2":1151,"y":280,"y2":328,"n":"کگدیرا|-4.79%","c":-4.79,"t":5},
{"x":1069,"x2":1098,"y":329,"y2":368,"n":"لخزر","c":-4.6,"t":5},
{"x":1099,"x2":1123,"y":329,"y2":351,"n":"تکنو","c":3.6,"t":5},
{"x":1099,"x2":1123,"y":352,"y2":368,"n":"...انتج","c":1,"t":5},
{"x":1124,"x2":1151,"y":329,"y2":343,"c":-2.6},
{"x":1124,"x2":1146,"y":344,"y2":356,"c":0.3},
{"x":1147,"x2":1151,"y":344,"y2":356,"c":0.6},
{"x":1124,"x2":1151,"y":357,"y2":368,"c":0.4},
{"x":1153,"x2":1228,"y":280,"y2":319,"n":"پکرمان|0.2%","c":0.3,"t":6},
{"x":1153,"x2":1178,"y":321,"y2":368,"n":"پتایر","c":1.1,"t":5},
{"x":1179,"x2":1207,"y":321,"y2":344,"n":"پلاسك","c":-4.6,"t":5},
{"x":1208,"x2":1228,"y":321,"y2":344,"n":"...ید","c":4.9,"t":5},
{"x":1179,"x2":1207,"y":345,"y2":368,"n":"پیوند","c":2.6,"t":5},
{"x":1208,"x2":1218,"y":346,"y2":362,"c":2.3},
{"x":1219,"x2":1228,"y":346,"y2":362,"c":-2},
{"x":1208,"x2":1218,"y":363,"y2":368,"c":-1.6},
{"x":1219,"x2":1228,"y":363,"y2":368,"c":-1.6},
{"x":1230,"x2":1298,"y":280,"y2":340,"n":"کماسه|-6.74%","c":-5,"t":5},
{"x":1230,"x2":1298,"y":341,"y2":368,"n":"کطبس","c":-2.8,"t":6},
{"x":970,"x2":1021,"y":389,"y2":439,"n":"حکشتی|-4.8%","c":-4.8,"t":6},
{"x":970,"x2":1021,"y":440,"y2":476,"n":"حفارس","c":-2.7,"t":6},
{"x":1022,"x2":1067,"y":389,"y2":416,"n":"جآفرین","c":-3.3,"t":5},
{"x":1022,"x2":1048,"y":417,"y2":441,"n":"توریل","c":3.5,"t":5},
{"x":1049,"x2":1067,"y":417,"y2":441,"n":"...ح","c":5,"t":5},
{"x":1022,"x2":1039,"y":442,"y2":461,"n":"...حآ","c":-4.4,"t":5},
{"x":1022,"x2":1039,"y":462,"y2":476,"n":"...ح","c":0.3,"t":5},
{"x":1040,"x2":1055,"y":442,"y2":458,"c":-1.5},
{"x":1056,"x2":1067,"y":442,"y2":458,"c":-1.7},
{"x":1040,"x2":1050,"y":459,"y2":476,"c":-4.2},
{"x":1051,"x2":1067,"y":459,"y2":467,"c":-4.4},
{"x":1051,"x2":1067,"y":468,"y2":476,"c":-2.8},
{"x":1069,"x2":1138,"y":383,"y2":414,"n":"قنیشا","c":-4.7,"t":6},
{"x":1069,"x2":1097,"y":415,"y2":442,"n":"قنایت","c":-1.6,"t":5},
{"x":1069,"x2":1097,"y":443,"y2":457,"n":"قلرست","c":5,"t":5},
{"x":1098,"x2":1117,"y":415,"y2":433,"n":"...ق","c":4.6,"t":5},
{"x":1119,"x2":1138,"y":415,"y2":433,"n":"...ق","c":1.3,"t":5},
{"x":1098,"x2":1117,"y":434,"y2":447,"c":-2.6},
{"x":1118,"x2":1127,"y":434,"y2":447,"c":-0.7},
{"x":1128,"x2":1138,"y":434,"y2":447,"c":0.3},
{"x":1098,"x2":1115,"y":448,"y2":457,"c":2.3},
{"x":1116,"x2":1132,"y":448,"y2":457,"c":1.2},
{"x":1133,"x2":1138,"y":448,"y2":457,"c":-1.6},
{"x":1139,"x2":1194,"y":383,"y2":420,"n":"بین","c":-0.7,"t":6},
{"x":1139,"x2":1179,"y":421,"y2":440,"n":"آباد","c":-0.9,"t":5},
{"x":1180,"x2":1194,"y":421,"y2":440,"c":1},
{"x":1196,"x2":1227,"y":383,"y2":410,"n":"ولغدر","c":-4.5,"t":5},
{"x":1229,"x2":1251,"y":383,"y2":410,"n":"...ول","c":0.3,"t":5},
{"x":1196,"x2":1222,"y":411,"y2":426,"n":"ونکار","c":-3.7,"t":5},
{"x":1196,"x2":1222,"y":427,"y2":440,"c":-1.6},
{"x":1224,"x2":1237,"y":411,"y2":431,"c":-3.5},
{"x":1238,"x2":1251,"y":411,"y2":431,"c":-4},
{"x":1224,"x2":1251,"y":432,"y2":440,"c":-3.9},
{"x":1253,"x2":1297,"y":383,"y2":408,"n":"بتوانس","c":-1.5,"t":5},
{"x":1253,"x2":1276,"y":409,"y2":425,"n":"بکابل","c":-1,"t":5},
{"x":1277,"x2":1297,"y":409,"y2":421,"c":-4.4},
{"x":1253,"x2":1276,"y":426,"y2":440,"c":-4.5},
{"x":1277,"x2":1288,"y":422,"y2":440,"c":-1.2},
{"x":1289,"x2":1297,"y":422,"y2":432,"c":-1.6},
{"x":1289,"x2":1297,"y":433,"y2":440,"c":-3},
{"x":1069,"x2":1096,"y":472,"y2":517,"n":"ونیرو","c":0.3,"t":5},
{"x":1097,"x2":1119,"y":472,"y2":492,"n":"بجهرم","c":-2.8,"t":5},
{"x":1120,"x2":1138,"y":472,"y2":492,"n":"...د","c":0.3,"t":5},
{"x":1097,"x2":1111,"y":493,"y2":517,"c":-0.8},
{"x":1112,"x2":1122,"y":493,"y2":506,"c":-4},
{"x":1112,"x2":1122,"y":507,"y2":517,"c":-0.8},
{"x":1123,"x2":1138,"y":493,"y2":501,"c":-0.8},
{"x":1123,"x2":1130,"y":502,"y2":513,"c":-0.7},
{"x":1131,"x2":1138,"y":502,"y2":513,"c":-3.5},
{"x":1123,"x2":1138,"y":514,"y2":517,"c":0.4},
{"x":1069,"x2":1105,"y":532,"y2":576,"n":"رتاپ","c":-0.7,"t":6},
{"x":1106,"x2":1138,"y":533,"y2":555,"n":"اوان","c":4.8,"t":5},
{"x":1106,"x2":1138,"y":556,"y2":576,"n":"اسیاتك","c":4.8,"t":5},
{"x":970,"x2":1017,"y":491,"y2":547,"n":"کساپا","c":5,"t":6},
{"x":970,"x2":1017,"y":548,"y2":576,"n":"کسرا","c":-1.5,"t":5},
{"x":1018,"x2":1067,"y":491,"y2":514,"n":"ککاز","c":-0.8,"t":5},
{"x":1018,"x2":1045,"y":515,"y2":537,"n":"کادر","c":-4.4,"t":5},
{"x":1046,"x2":1067,"y":515,"y2":537,"n":"...که","c":-0.7,"t":5},
{"x":1018,"x2":1037,"y":538,"y2":557,"n":"...ك","c":-3.2,"t":5},
{"x":1018,"x2":1037,"y":558,"y2":576,"n":"...ك","c":-0.7,"t":5},
{"x":1038,"x2":1052,"y":538,"y2":553,"c":-0.7},
{"x":1053,"x2":1067,"y":538,"y2":553,"c":-1.8},
{"x":1038,"x2":1046,"y":554,"y2":576,"c":1.8},
{"x":1047,"x2":1056,"y":554,"y2":576,"c":-4.2},
{"x":1057,"x2":1067,"y":554,"y2":563,"c":-0.8},
{"x":1057,"x2":1067,"y":564,"y2":576,"c":-3.8},
{"x":1139,"x2":1161,"y":455,"y2":487,"n":"کترام","c":3.7,"t":5},
{"x":1162,"x2":1180,"y":455,"y2":487,"n":"...ك","c":2.8,"t":5},
{"x":1182,"x2":1203,"y":455,"y2":478,"n":"...ك","c":1.8,"t":5},
{"x":1182,"x2":1199,"y":479,"y2":487,"c":1.2},
{"x":1200,"x2":1203,"y":479,"y2":487,"c":-1.6},
{"x":1205,"x2":1252,"y":455,"y2":494,"n":"چکاوه","c":3.6,"t":6},
{"x":1255,"x2":1292,"y":455,"y2":494,"n":"مفاخر","c":4.8,"t":6},
{"x":1293,"x2":1297,"y":455,"y2":494,"c":-1.2},
{"x":1139,"x2":1177,"y":502,"y2":532,"n":"فاذر","c":0.3,"t":5},
{"x":1179,"x2":1202,"y":502,"y2":525,"n":"فاراك","c":-1.9,"t":5},
{"x":1179,"x2":1190,"y":526,"y2":532,"c":-2.9},
{"x":1191,"x2":1202,"y":526,"y2":532,"c":0.5},
{"x":1139,"x2":1190,"y":547,"y2":576,"n":"اخابر","c":1,"t":6},
{"x":1191,"x2":1202,"y":547,"y2":576,"c":-1.6},
{"x":1205,"x2":1246,"y":509,"y2":545,"n":"شگویا","c":5,"t":6},
{"x":1205,"x2":1235,"y":561,"y2":576,"n":"رمپنا","c":-2.6,"t":5},
{"x":1236,"x2":1246,"y":561,"y2":576,"c":3.8},
{"x":1249,"x2":1272,"y":509,"y2":525,"n":"چکاپا","c":-0.7,"t":5},
{"x":1249,"x2":1272,"y":526,"y2":540,"c":-1.6},
{"x":1275,"x2":1297,"y":509,"y2":540,"n":"...حفا","c":-1.8,"t":5},
{"x":1248,"x2":1267,"y":554,"y2":560,"c":0.9},
{"x":1268,"x2":1275,"y":554,"y2":560,"c":-1.6},
{"x":1278,"x2":1297,"y":554,"y2":560,"c":2.4},
{"x":1249,"x2":1276,"y":574,"y2":576,"c":0.3},
{"x":1278,"x2":1295,"y":574,"y2":576,"c":-0.8}
]},
"layer":[
{"data":{"name":"frame"},"mark":{"type":"rect","fill":"#e2e6e4"},"encoding":{
"x":{"field":"x","type":"quantitative","scale":{"domain":[0,1300],"nice":false,"zero":false},"axis":null},
"x2":{"field":"x2"},
"y":{"field":"y","type":"quantitative","scale":{"domain":[0,731],"reverse":true,"nice":false,"zero":false},"axis":null},
"y2":{"field":"y2"}}},
{"data":{"name":"groups"},"mark":{"type":"rect","fill":"#ffffff"},"encoding":{
"x":{"field":"x","type":"quantitative"},"x2":{"field":"x2"},"y":{"field":"y","type":"quantitative"},"y2":{"field":"y2"}}},
{"data":{"name":"groups"},"transform":[{"calculate":"(datum.x+datum.x2)/2","as":"cx"},{"calculate":"(datum.y+datum.y2)/2","as":"cy"}],"mark":{"type":"text","font":"DejaVu Sans","fontSize":5.7,"fill":"#111111","align":"center","baseline":"middle"},"encoding":{
"x":{"field":"cx","type":"quantitative"},"y":{"field":"cy","type":"quantitative"},"text":{"field":"n"}}},
{"data":{"name":"cells"},"mark":{"type":"rect"},"encoding":{
"x":{"field":"x","type":"quantitative"},"x2":{"field":"x2"},"y":{"field":"y","type":"quantitative"},"y2":{"field":"y2"},
"color":{"field":"c","type":"quantitative","legend":null,"scale":{"type":"linear","domain":[-5,-4,-3,-2,-1,0,0.01,1,2.5,3.8,5],"range":["#ff0000","#d20000","#a80000","#720000","#430000","#360000","#004400","#0e6a0c","#1c9c06","#26d000","#30ff00"]}}}},
{"data":{"name":"cells"},"transform":[{"filter":"isValid(datum.n)"},{"calculate":"(datum.x+datum.x2)/2","as":"cx"},{"calculate":"(datum.y+datum.y2)/2","as":"cy"}],"mark":{"type":"text","font":"DejaVu Sans","align":"center","baseline":"middle","lineBreak":"|"},"encoding":{
"x":{"field":"cx","type":"quantitative"},"y":{"field":"cy","type":"quantitative"},"text":{"field":"n"},
"size":{"field":"t","type":"quantitative","legend":null,"scale":{"type":"threshold","domain":[1.5,2.5,3.5,4.5,5.5],"range":[17,13,10.5,8.5,7,4.5]}},
"color":{"condition":{"test":"datum.c>3.3 && datum.t>1","value":"#0b3d00"},"value":"#e8e8e8"}}},
{"data":{"name":"logo"},"mark":{"type":"point","filled":true,"opacity":1,"size":4,"shape":"M-74.3-25.3L-61-25.3L-61 10Q-61 15.3-57 15.3L-48.7 15.3L-58.7 28L-65 28Q-74.3 28-74.3 17ZM56.3 2L74.7 2L51.3 28L33 28Z","fill":"#0a0a0a","stroke":"#ffffff","strokeWidth":0.6},"encoding":{"x":{"field":"x","type":"quantitative"},"y":{"field":"y","type":"quantitative"}}},
{"data":{"name":"logo"},"mark":{"type":"point","filled":true,"opacity":1,"size":4,"shape":"M-2-25.3L59.7-25.3L48-14L-12-14ZM-15.3-9.7L13-9.7Q31.3-8 31.3 7Q29.7 28 8 28L-51 28L-40.3 15.3L4.7 15.3Q18 15.3 18 7Q18 1.3 8 1.3L-27 1.3Z","fill":{"gradient":"linear","x1":0,"y1":0,"x2":1,"y2":0,"stops":[{"offset":0,"color":"#e01010"},{"offset":0.6,"color":"#a00808"},{"offset":1,"color":"#300404"}]},"stroke":"#ffffff","strokeWidth":0.6},"encoding":{"x":{"field":"x","type":"quantitative"},"y":{"field":"y","type":"quantitative"}}},
{"data":{"name":"logo"},"mark":{"type":"point","filled":true,"opacity":1,"size":4,"shape":"M-50.7-13A12 12 0 1 1-26.7-13A12 12 0 1 1-50.7-13Z","fill":"#f4f4f4","stroke":"#bbbbbb","strokeWidth":0.6},"encoding":{"x":{"field":"x","type":"quantitative"},"y":{"field":"y","type":"quantitative"}}},
{"data":{"name":"logo"},"mark":{"type":"point","filled":true,"opacity":1,"size":4,"shape":"M-47-19.7L-42-23L-37-22L-38.7-18L-35.3-13L-37-4.7L-42-6.3L-43.7-11.3L-48.7-14.7ZM-33.7-21.3L-29.7-16.3L-32-13L-35.3-18Z","fill":"#c01212"},"encoding":{"x":{"field":"x","type":"quantitative"},"y":{"field":"y","type":"quantitative"}}}
]}
